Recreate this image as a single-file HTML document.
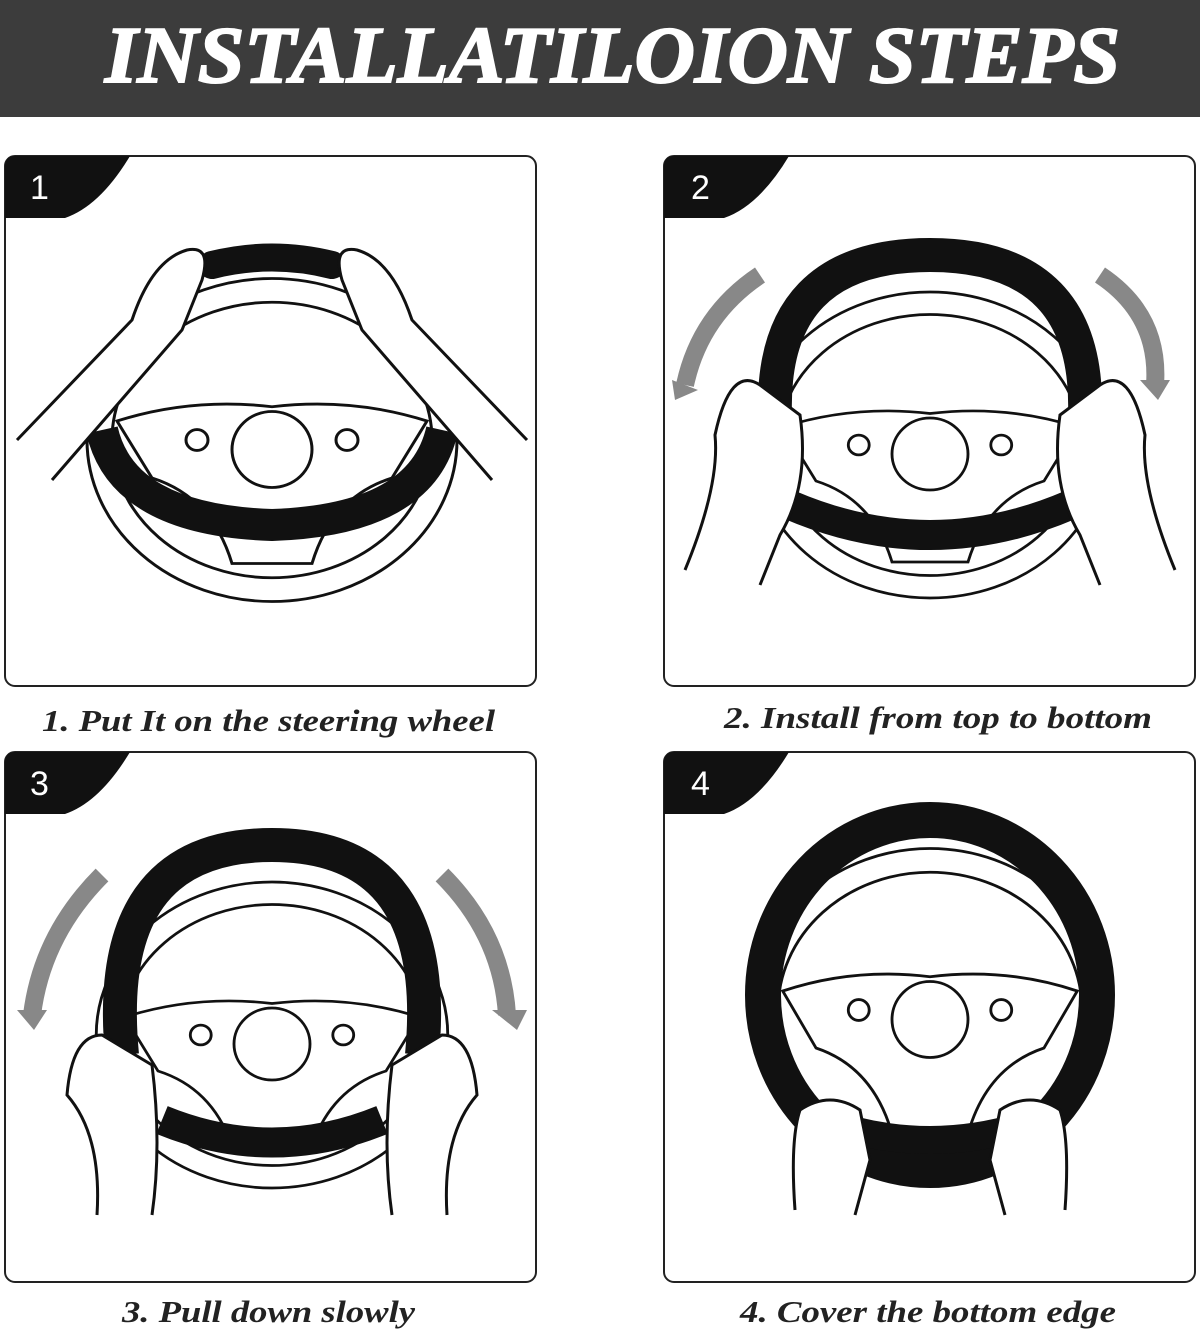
<!DOCTYPE html>
<html><head><meta charset="utf-8"><style>
html,body{margin:0;padding:0;background:#fff;width:1200px;height:1333px;overflow:hidden}
</style></head><body>
<svg width="1200" height="1333" viewBox="0 0 1200 1333" xmlns="http://www.w3.org/2000/svg">
<defs>
<g id="wheelbase">
  <ellipse cx="0" cy="0" rx="185" ry="170" fill="none" stroke="#111" stroke-width="3"/>
  <ellipse cx="0" cy="0" rx="160" ry="145" fill="none" stroke="#111" stroke-width="3"/>
  <path d="M-155,-20 Q-80,-45 0,-35 Q80,-45 155,-20 L120,40 Q60,60 40,130 L-40,130 Q-60,60 -120,40 Z" fill="#fff" stroke="#111" stroke-width="3"/>
  <circle cx="0" cy="10" r="40" fill="#fff" stroke="#111" stroke-width="3"/>
  <circle cx="-75" cy="0" r="11" fill="#fff" stroke="#111" stroke-width="3"/>
  <circle cx="75" cy="0" r="11" fill="#fff" stroke="#111" stroke-width="3"/>
</g>
<g id="tab">
  <path d="M0,10 Q0,0 10,0 L125,0 Q95,50 60,62 L0,62 Z" fill="#111"/>
</g>
</defs>
<rect x="0" y="0" width="1200" height="117" fill="#3c3c3c"/>
<text x="105" y="82" textLength="1015" lengthAdjust="spacingAndGlyphs" font-family="Liberation Serif,serif" font-weight="bold" font-style="italic" font-size="80" fill="#fff" stroke="#fff" stroke-width="2">INSTALLATILOION STEPS</text>

<g fill="none" stroke="#222" stroke-width="2">
<rect x="5" y="156" width="531" height="530" rx="10"/>
<rect x="664" y="156" width="531" height="530" rx="10"/>
<rect x="5" y="752" width="531" height="530" rx="10"/>
<rect x="664" y="752" width="531" height="530" rx="10"/>
</g>
<use href="#tab" x="5" y="156"/>
<use href="#tab" x="664" y="156"/>
<use href="#tab" x="5" y="752"/>
<use href="#tab" x="664" y="752"/>
<g font-family="Liberation Sans,sans-serif" font-size="34" fill="#fff">
<text x="30" y="199">1</text><text x="691" y="199">2</text>
<text x="30" y="795">3</text><text x="691" y="795">4</text>
</g>

<g transform="translate(272,440)">
  <use href="#wheelbase" transform="scale(1,0.95)"/>
  <path d="M-170,-10 Q-150,80 0,85 Q150,80 170,-10" fill="none" stroke="#111" stroke-width="32"/>
  <path d="M-60,-175 Q0,-190 60,-175" fill="none" stroke="#111" stroke-width="28" stroke-linecap="round"/>
  <path d="M-255,0 L-140,-120 Q-120,-180 -85,-190 Q-60,-195 -70,-160 L-90,-110 L-220,40" fill="#fff" stroke="#111" stroke-width="3"/>
  <path d="M255,0 L140,-120 Q120,-180 85,-190 Q60,-195 70,-160 L90,-110 L220,40" fill="#fff" stroke="#111" stroke-width="3"/>
</g>

<g transform="translate(930,445)">
  <use href="#wheelbase" transform="scale(0.95,0.9)"/>
  <path d="M-155,-30 Q-160,-190 0,-190 Q160,-190 155,-30" fill="none" stroke="#111" stroke-width="34"/>
  <path d="M-140,60 Q0,120 140,60" fill="none" stroke="#111" stroke-width="30"/>
  <path d="M-170,-170 Q-230,-130 -245,-60" fill="none" stroke="#888" stroke-width="18"/>
  <path d="M-258,-65 L-232,-55 L-255,-45 Z" fill="#888"/>
  <path d="M170,-170 Q230,-130 225,-60" fill="none" stroke="#888" stroke-width="18"/>
  <path d="M210,-65 L240,-65 L228,-45 Z" fill="#888"/>
  <path d="M-245,125 Q-210,40 -215,-10 Q-200,-80 -170,-60 L-130,-30 Q-120,40 -150,90 L-170,140" fill="#fff" stroke="#111" stroke-width="3"/>
  <path d="M245,125 Q210,40 215,-10 Q200,-80 170,-60 L130,-30 Q120,40 150,90 L170,140" fill="#fff" stroke="#111" stroke-width="3"/>
</g>

<g transform="translate(272,1035)">
  <use href="#wheelbase" transform="scale(0.95,0.9)"/>
  <path d="M-150,20 Q-170,-190 0,-190 Q170,-190 150,20" fill="none" stroke="#111" stroke-width="34"/>
  <path d="M-110,85 Q0,130 110,85" fill="none" stroke="#111" stroke-width="30"/>
  <path d="M-170,-160 Q-230,-100 -240,-20" fill="none" stroke="#888" stroke-width="18"/>
  <path d="M-255,-25 L-225,-25 L-238,-5 Z" fill="#888"/>
  <path d="M170,-160 Q230,-100 235,-20" fill="none" stroke="#888" stroke-width="18"/>
  <path d="M220,-25 L255,-25 L245,-5 Z" fill="#888"/>
  <path d="M-175,180 Q-170,100 -205,60 Q-200,0 -170,0 L-120,30 Q-110,110 -120,180" fill="#fff" stroke="#111" stroke-width="3"/>
  <path d="M175,180 Q170,100 205,60 Q200,0 170,0 L120,30 Q110,110 120,180" fill="#fff" stroke="#111" stroke-width="3"/>
</g>

<g transform="translate(930,1010)">
  <use href="#wheelbase" transform="scale(0.95,0.95)"/>
  <ellipse cx="0" cy="-15" rx="167" ry="175" fill="none" stroke="#111" stroke-width="36"/>
  <path d="M-110,110 Q0,150 110,110" fill="none" stroke="#111" stroke-width="28"/>
  <path d="M-135,200 Q-140,130 -130,100 Q-100,80 -70,100 L-60,150 L-75,205" fill="#fff" stroke="#111" stroke-width="3"/>
  <path d="M135,200 Q140,130 130,100 Q100,80 70,100 L60,150 L75,205" fill="#fff" stroke="#111" stroke-width="3"/>
</g>

<g font-family="Liberation Serif,serif" font-weight="bold" font-style="italic" font-size="31" fill="#222">
<text x="42" y="731" textLength="453" lengthAdjust="spacingAndGlyphs">1. Put It on the steering wheel</text>
<text x="724" y="728" textLength="428" lengthAdjust="spacingAndGlyphs">2. Install from top to bottom</text>
<text x="122" y="1322" textLength="293" lengthAdjust="spacingAndGlyphs">3. Pull down slowly</text>
<text x="740" y="1322" textLength="376" lengthAdjust="spacingAndGlyphs">4. Cover the bottom edge</text>
</g>
</svg>
</body></html>
